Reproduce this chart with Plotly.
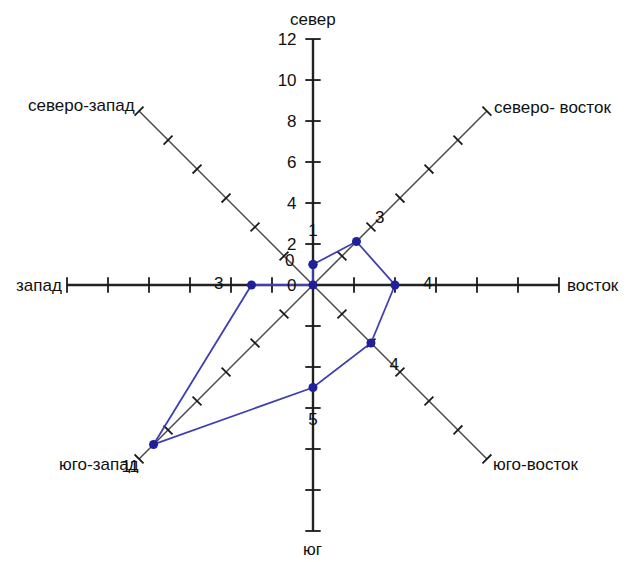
import math
import plotly.graph_objects as go

# wind rose values
directions = ["север", "северо- восток", "восток", "юго-восток",
              "юг", "юго-запад", "запад", "северо-запад"]
values = [1, 3, 4, 4, 5, 11, 3, 0]
radial_ticks = [0, 2, 4, 6, 8, 10, 12]

R_MAX = radial_ticks[-1]
FONT = "Liberation Sans, Arial, sans-serif"
DOM_X = [0.0929, 0.8677]
DOM_Y = [0.0694, 0.9448]

fig = go.Figure()

# spokes (the axes of the radar), main ones thicker
for i, d in enumerate(directions):
    main = i % 2 == 0
    fig.add_trace(go.Scatterpolar(
        r=[0, R_MAX], theta=[d, d], mode="lines",
        line=dict(color="#222222" if main else "#4a4a4a", width=2.4 if main else 1.5),
        hoverinfo="skip", showlegend=False))
    # tick marks across each spoke
    fig.add_trace(go.Scatterpolar(
        r=radial_ticks[1:], theta=[d] * (len(radial_ticks) - 1), mode="markers",
        marker=dict(symbol="line-ew", size=11 if main else 9, angle=i * 45,
                    line=dict(color="#1a1a1a", width=1.8)),
        hoverinfo="skip", showlegend=False))

# data polygon
fig.add_trace(go.Scatterpolar(
    r=values + values[:1], theta=directions + directions[:1],
    mode="lines+markers",
    line=dict(color="#4040b4", width=1.8),
    marker=dict(color="#20209a", size=9),
    showlegend=False))

# data labels, pushed outward along each spoke (kept inside the axis range)
lab_r = [min(v + 1.6, R_MAX) for v in values]
lab_pos = ["bottom left" if v + 1.6 > R_MAX else "middle center" for v in values]
fig.add_trace(go.Scatterpolar(
    r=lab_r, theta=directions, mode="text",
    text=[str(v) for v in values], textposition=lab_pos,
    textfont=dict(family=FONT, size=17, color="#111111"),
    cliponaxis=False, hoverinfo="skip", showlegend=False))

# direction names next to the spoke ends, excel style
cx, cy = sum(DOM_X) / 2, sum(DOM_Y) / 2
rx, ry = (DOM_X[1] - DOM_X[0]) / 2, (DOM_Y[1] - DOM_Y[0]) / 2
name_anchor = [("center", "bottom", 0, 8), ("left", "middle", 5, 4),
               ("left", "middle", 6, 0), ("left", "middle", 4, -6),
               ("center", "top", 0, -7), ("right", "middle", 2, -6),
               ("right", "middle", -3, 0), ("right", "middle", -2, 6)]
for i, d in enumerate(directions):
    a = math.radians(i * 45)
    xa, ya, xs, ys = name_anchor[i]
    fig.add_annotation(x=cx + rx * math.sin(a), y=cy + ry * math.cos(a),
                       xref="paper", yref="paper", text=d, showarrow=False,
                       xanchor=xa, yanchor=ya, xshift=xs, yshift=ys,
                       font=dict(family=FONT, size=17, color="#111111"))

fig.update_layout(
    width=635, height=562,
    margin=dict(l=0, r=0, t=0, b=0),
    paper_bgcolor="white",
    font=dict(family=FONT, size=17, color="#111111"),
    polar=dict(
        domain=dict(x=DOM_X, y=DOM_Y),
        bgcolor="white",
        angularaxis=dict(
            direction="clockwise", rotation=90,
            categoryorder="array", categoryarray=directions,
            showgrid=False, showline=False, ticks="", showticklabels=False),
        radialaxis=dict(
            range=[0, R_MAX], tickvals=radial_ticks, angle=90, tickangle=90,
            side="counterclockwise",
            showgrid=False, showline=False, ticks="outside", ticklen=10,
            tickcolor="rgba(0,0,0,0)",
            tickfont=dict(family=FONT, size=17, color="#111111")),
    ),
)

fig.write_html("out.html")
